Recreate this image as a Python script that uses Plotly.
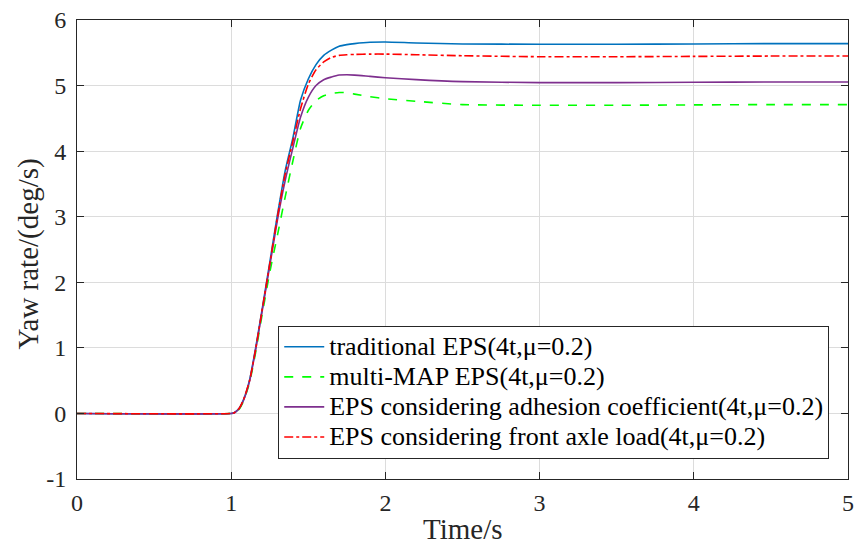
import plotly.graph_objects as go

# Sample times (s)
time_s = [0, 1.0, 1.02, 1.05, 1.08, 1.12, 1.16, 1.2, 1.25, 1.3, 1.35, 1.4, 1.45,
          1.5, 1.55, 1.6, 1.65, 1.7, 1.75, 1.8, 1.9, 2.0, 2.2, 2.5, 3.0, 3.5,
          4.0, 4.5, 5.0]

# Yaw rate (deg/s) for each steering strategy
traditional_eps = [0, 0, 0.01, 0.07, 0.21, 0.52, 1.02, 1.58, 2.3, 3.03, 3.7, 4.2,
                   4.78, 5.1, 5.32, 5.46, 5.54, 5.6, 5.625, 5.64, 5.66, 5.665,
                   5.65, 5.635, 5.63, 5.63, 5.635, 5.64, 5.64]
multi_map_eps = [0, 0, 0.01, 0.06, 0.19, 0.48, 0.95, 1.5, 2.15, 2.72, 3.3, 3.85,
                 4.35, 4.62, 4.77, 4.845, 4.88, 4.895, 4.89, 4.87, 4.83, 4.80,
                 4.76, 4.71, 4.70, 4.70, 4.705, 4.71, 4.71]
adhesion_eps = [0, 0, 0.01, 0.07, 0.2, 0.5, 0.99, 1.55, 2.25, 2.95, 3.55, 4.05,
                4.52, 4.82, 5.0, 5.09, 5.13, 5.16, 5.165, 5.16, 5.14, 5.12,
                5.09, 5.06, 5.045, 5.045, 5.05, 5.055, 5.055]
axle_load_eps = [0, 0, 0.01, 0.07, 0.21, 0.51, 1.0, 1.57, 2.28, 3.0, 3.65, 4.15,
                 4.65, 5.02, 5.24, 5.36, 5.43, 5.46, 5.47, 5.475, 5.48, 5.48,
                 5.47, 5.455, 5.44, 5.44, 5.445, 5.45, 5.45]

series_names = [
    "traditional EPS(4t,\u03bc=0.2)",
    "multi-MAP EPS(4t,\u03bc=0.2)",
    "EPS considering adhesion coefficient(4t,\u03bc=0.2)",
    "EPS considering front axle load(4t,\u03bc=0.2)",
]
series_values = [traditional_eps, multi_map_eps, adhesion_eps, axle_load_eps]
series_colors = ["#0072BD", "#00FF00", "#7E2F8E", "#FF0000"]
series_dash = ["solid", "dash", "solid", "dashdot"]

x_ticks = [0, 1, 2, 3, 4, 5]
x_tick_labels = ["0", "1", "2", "3", "4", "5"]
y_ticks = [-1, 0, 1, 2, 3, 4, 5, 6]
y_tick_labels = ["-1", "0", "1", "2", "3", "4", "5", "6"]

x_title = "Time/s"
y_title = "Yaw rate/(deg/s)"

FONT = "Liberation Serif, Times New Roman, serif"
INK = "#262626"

fig = go.Figure()
for name, vals, color, dash in zip(series_names, series_values, series_colors, series_dash):
    fig.add_trace(go.Scatter(
        x=time_s, y=vals, mode="lines",
        # larger glyphs inside a compact legend row
        name=f'<span style="font-size:26px">{name}</span>',
        line=dict(color=color, width=1.6, dash=dash, shape="spline", smoothing=0.6),
    ))

axis_common = dict(
    showline=True, linecolor=INK, linewidth=1, mirror="ticks",
    ticks="inside", ticklen=7, tickcolor=INK, tickwidth=1,
    showgrid=True, gridcolor="#DCDCDC", gridwidth=1, zeroline=False,
    tickfont=dict(family=FONT, size=24, color=INK),
    automargin=False,
)

fig.update_xaxes(range=[0, 5], tickvals=x_ticks, ticktext=x_tick_labels,
                 ticklabelstandoff=2, **axis_common)
fig.update_yaxes(range=[-1, 6], tickvals=y_ticks, ticktext=y_tick_labels,
                 ticklabelstandoff=5, **axis_common)

# Axis titles placed as paper-anchored text so they sit close to the frame edges
title_font = dict(family=FONT, size=29, color=INK)
fig.add_annotation(text=x_title, xref="paper", yref="paper", x=0.5, y=-0.148,
                   xanchor="center", yanchor="bottom", showarrow=False, font=title_font)
fig.add_annotation(text=y_title, xref="paper", yref="paper", x=-0.063, y=0.49,
                   xanchor="center", yanchor="middle", textangle=-90,
                   showarrow=False, font=title_font)

fig.update_layout(
    width=857, height=548, autosize=False,
    margin=dict(l=77, r=9, t=20, b=69),
    paper_bgcolor="white", plot_bgcolor="white",
    font=dict(family=FONT, color=INK),
    legend=dict(
        x=0.261, y=0.044, xanchor="left", yanchor="bottom",
        bgcolor="white", bordercolor=INK, borderwidth=1,
        font=dict(family=FONT, size=20.8, color="#000000"),
        tracegroupgap=0, itemwidth=40,
    ),
    showlegend=True,
)

fig.write_html("out.html")
